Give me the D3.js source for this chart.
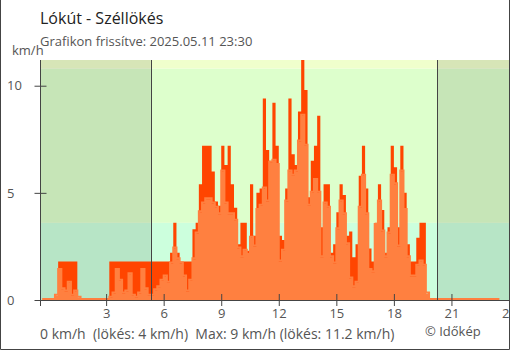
<!DOCTYPE html>
<html>
<head>
<meta charset="utf-8">
<title>Lókút - Széllökés</title>
<script src="https://cdn.jsdelivr.net/npm/d3@7"></script>
<style>
  html, body { margin: 0; padding: 0; background: #fff; }
  svg { display: block; font-family: "Open Sans", sans-serif; }
  .axis text { fill: #555; font-size: 13px; font-family: "Open Sans", sans-serif; }
  .axis line, .axis path { stroke: #444; }
</style>
</head>
<body>
<svg id="chart" width="510" height="350"></svg>
<script>
// 10 perces adatok, 23:40 (előző nap) -> 23:30
const startHour = -1 / 3;
const stepHour = 1 / 6;

const wind = [
  0, 0,
  0, 0, 0.2, 1.4, 0.5, 0.4, 0.8, 0.2, 0.4, 0.1,
  0, 0, 0, 0, 0, 0, 0, 0, 0, 0.1,
  0.3, 1.4, 0.9, 0.3, 0.4, 1.2, 0.2, 0.1, 0.3, 1.4,
  0.5, 0.2, 0.2, 0.45, 0.6, 0.9, 1.1, 0.8, 1.7, 2.4,
  1.9, 1.7, 1.1, 0.4, 0.9, 1.9, 3.1, 4.1, 4.5, 4.7,
  4.7, 4.5, 4.3, 4.0, 6.0, 4.5, 4.0, 4.0, 3.7, 2.4,
  2.0, 2.3, 2.1, 2.9, 2.5, 4.2, 4.4, 5.2, 4.6, 6.4,
  6.5, 6.3, 1.8, 2.3, 4.6, 6.0, 5.8, 6.0, 7.4, 8.6,
  7.2, 4.4, 5.0, 5.6, 5.0, 2.0, 4.5, 4.3, 2.0, 1.7,
  3.3, 4.6, 4.0, 2.6, 1.0, 0.6, 0.8, 4.3, 5.8, 4.0,
  1.4, 1.3, 3.5, 4.6, 3.2, 2.0, 3.1, 5.8, 5.4, 2.5,
  6.0, 4.2, 2.0, 1.1, 1.1, 1.6, 1.8, 1.6, 0.3, 0,
  0, 0, 0, 0, 0, 0, 0, 0, 0, 0,
  0, 0, 0, 0, 0, 0, 0, 0, 0, 0,
  0, 0
];

const gust = [
  0, 0,
  0, 0, 0, 1.8, 1.8, 1.8, 1.8, 1.8, 1.8, 0,
  0, 0, 0, 0, 0, 0, 0, 0, 0, 1.8,
  1.8, 1.8, 1.8, 1.8, 1.8, 1.8, 1.8, 1.8, 1.8, 1.8,
  1.8, 1.8, 1.8, 1.8, 1.8, 1.8, 1.8, 1.8, 2.2, 3.6,
  2.2, 1.8, 1.8, 1.8, 1.8, 3.3, 3.6, 5.4, 7.2, 7.2,
  7.2, 6.0, 4.6, 4.4, 7.2, 6.3, 7.2, 5.4, 4.3, 2.6,
  3.6, 3.6, 2.3, 5.4, 3.0, 5.0, 5.2, 9.4, 7.0, 6.5,
  9.2, 7.2, 3.0, 2.8, 5.2, 9.4, 6.8, 6.3, 8.8, 11.2,
  9.8, 4.8, 6.5, 7.2, 8.6, 3.4, 5.4, 5.4, 2.2, 2.6,
  4.1, 5.4, 4.9, 3.0, 3.2, 2.0, 2.6, 5.8, 7.2, 5.2,
  2.4, 1.8, 3.6, 5.4, 4.2, 2.2, 3.4, 7.2, 6.2, 3.4,
  7.2, 5.0, 2.6, 1.8, 1.8, 2.9, 3.6, 3.6, 0, 0,
  0, 0, 0, 0, 0, 0, 0, 0, 0, 0,
  0, 0, 0, 0, 0, 0, 0, 0, 0, 0,
  0, 0
];

const bandLimits = [0, 3.6, 10.8, 11.2];
const bandColors = ["#ccffdd", "#ddffcc", "#f0ffcc"];
const night = [[-0.42, 5.33], [20.25, 24]];
const xTicks = [3, 6, 9, 12, 15, 18, 21, 24];
const yTicks = [0, 5, 10];

const title = "Lókút - Széllökés";
const subtitle = "Grafikon frissítve: 2025.05.11 23:30";
const summary = "0 km/h  (lökés: 4 km/h)  Max: 9 km/h (lökés: 11.2 km/h)";
const credit = "© Időkép";

const svg = d3.select("#chart");
const pLeft = 40.5, pRight = 509, pTop = 60, pBottom = 300;

const x = d3.scaleLinear().domain([-0.42, 24]).range([pLeft, pRight]);
const y = d3.scaleLinear().domain([0, 11.2]).range([pBottom, pTop]);

const data = wind.map((w, i) => ({ t: startHour + i * stepHour, w: w, g: gust[i] }));

svg.append("clipPath").attr("id", "plot")
  .append("rect").attr("x", pLeft).attr("y", pTop)
  .attr("width", pRight - pLeft).attr("height", pBottom - pTop);

const plot = svg.append("g").attr("clip-path", "url(#plot)");

// háttérsávok
plot.selectAll("rect.band")
  .data(bandColors)
  .enter().append("rect")
  .attr("class", "band")
  .attr("x", pLeft)
  .attr("width", pRight - pLeft)
  .attr("y", (d, i) => y(bandLimits[i + 1]))
  .attr("height", (d, i) => y(bandLimits[i]) - y(bandLimits[i + 1]))
  .attr("fill", d => d);

// éjszaka
plot.selectAll("rect.night")
  .data(night)
  .enter().append("rect")
  .attr("class", "night")
  .attr("x", d => x(d[0]))
  .attr("width", d => x(d[1]) - x(d[0]))
  .attr("y", pTop)
  .attr("height", pBottom - pTop)
  .attr("fill", "#000")
  .attr("fill-opacity", 0.1);

const gustArea = d3.area().curve(d3.curveStepAfter)
  .x(d => x(d.t)).y0(y(0)).y1(d => y(d.g));
const windArea = d3.area().curve(d3.curveStepAfter)
  .x(d => x(d.t)).y0(y(0)).y1(d => y(d.w));
const windLine = d3.line().curve(d3.curveStepAfter)
  .x(d => x(d.t)).y(d => y(d.w) - 1);

plot.append("path").datum(data)
  .attr("d", gustArea)
  .attr("fill", "#ff4500");

plot.append("path").datum(data)
  .attr("d", windArea)
  .attr("fill", "#ff8040");

plot.append("path").datum(data)
  .attr("d", windLine)
  .attr("fill", "none")
  .attr("stroke", "#ff8040")
  .attr("stroke-width", 2);

// napkelte / napnyugta vonalak
svg.selectAll("line.sun")
  .data([night[0][1], night[1][0]])
  .enter().append("line")
  .attr("class", "sun")
  .attr("x1", d => Math.round(x(d)) + 0.5)
  .attr("x2", d => Math.round(x(d)) + 0.5)
  .attr("y1", pTop)
  .attr("y2", pBottom)
  .attr("stroke", "#444");

// tengelyek
const xAxis = svg.append("g")
  .attr("class", "axis")
  .attr("transform", `translate(0,${pBottom})`)
  .call(d3.axisBottom(x).tickValues(xTicks).tickSizeInner(6).tickSizeOuter(0).tickPadding(3));
xAxis.select(".domain").attr("d", `M${pLeft},0.5H${pRight}`);
xAxis.selectAll(".tick line").attr("y1", -6).attr("y2", 6);

const yAxis = svg.append("g")
  .attr("class", "axis")
  .attr("transform", `translate(${pLeft},0)`)
  .call(d3.axisLeft(y).tickValues(yTicks).tickSizeInner(6).tickSizeOuter(0));
yAxis.select(".domain").attr("d", `M0,${pTop}V${pBottom + 6}`);
yAxis.selectAll(".tick line").attr("x1", -6).attr("x2", 6);
yAxis.selectAll(".tick text").attr("x", 7 - pLeft).attr("text-anchor", "start");

svg.append("text")
  .attr("x", 12).attr("y", 55)
  .attr("fill", "#555").attr("font-size", 13)
  .text("km/h");

svg.append("text")
  .attr("x", 40).attr("y", 24)
  .attr("fill", "#222").attr("font-size", 16)
  .text(title);

svg.append("text")
  .attr("x", 40).attr("y", 46)
  .attr("fill", "#555").attr("font-size", 13)
  .text(subtitle);

svg.append("text")
  .attr("x", 40).attr("y", 339)
  .attr("fill", "#555").attr("font-size", 14)
  .style("white-space", "pre")
  .text(summary);

svg.append("text")
  .attr("x", 425).attr("y", 336)
  .attr("fill", "#555").attr("font-size", 13)
  .text(credit);

// keret
svg.append("path")
  .attr("d", "M0.5,0V349.5H509.5V0")
  .attr("fill", "none")
  .attr("stroke", "#444");
</script>
</body>
</html>
